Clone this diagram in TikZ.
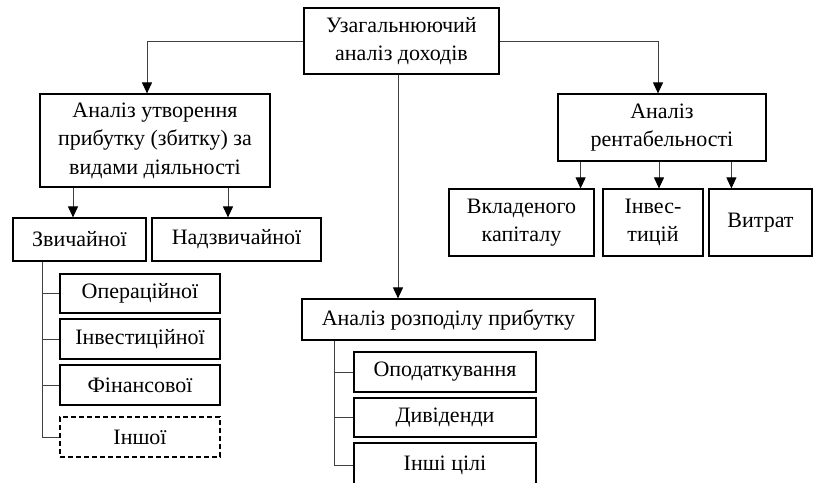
\documentclass[tikz,border=0pt]{standalone}
\usepackage{fontspec}
\setmainfont{Liberation Serif}
\usetikzlibrary{arrows.meta}

\begin{document}
\begin{tikzpicture}[x=1pt,y=-1pt,line cap=butt,
  box/.style={draw,line width=1.2pt,align=center,inner sep=2pt,
              font=\fontsize{22}{28.5}\selectfont},
  dashbox/.style={box,dash pattern=on 5pt off 3pt},
  arr/.style={line width=1pt,black!75,
              -{Triangle[length=11pt,width=10pt,color=black]}},
  stem/.style={line width=1pt,black!75}]
  \useasboundingbox (0,0) rectangle (814,482);

  % top level
  \node[box,minimum width=195pt,minimum height=66pt] (top) at (401.5,41)
    {Узагальнюючий\\аналіз доходів};

  % formation of profit
  \node[box,minimum width=230pt,minimum height=93pt] (akt) at (155,140.5)
    {Аналіз утворення\\прибутку (збитку) за\\видами діяльності};
  \node[box,minimum width=133pt,minimum height=43pt] (zv)  at (79.5,239.5) {Звичайної};
  \node[box,minimum width=169pt,minimum height=43pt] (nzv) at (236.5,239.5) {Надзвичайної};
  \node[box,minimum width=160pt,minimum height=39pt] (op)  at (140,293.5) {Операційної};
  \node[box,minimum width=160pt,minimum height=40pt] (inv) at (140,339) {Інвестиційної};
  \node[box,minimum width=160pt,minimum height=40pt] (fin) at (140,385) {Фінансової};
  \node[dashbox,minimum width=160pt,minimum height=40pt] (insh) at (140,437) {Іншої};

  % distribution of profit
  \node[box,minimum width=293pt,minimum height=41pt] (rozp) at (448.5,319.5)
    {Аналіз розподілу прибутку};
  \node[box,minimum width=182pt,minimum height=40pt] (opod)  at (445,372) {Оподаткування};
  \node[box,minimum width=182pt,minimum height=39pt] (div)   at (445,417.5) {Дивіденди};
  \node[box,minimum width=182pt,minimum height=45pt] (inshi) at (445,465.5) {Інші цілі};

  % profitability
  \node[box,minimum width=208pt,minimum height=67pt] (rent) at (662,127.5)
    {Аналіз\\рентабельності};
  \node[box,minimum width=145pt,minimum height=67pt] (vk)   at (521.5,222.5)
    {Вкладеного\\капіталу};
  \node[box,minimum width=100pt,minimum height=67pt] (invc) at (653,222.5)
    {Інвес-\\тицій};
  \node[box,minimum width=103pt,minimum height=67pt] (vyt)  at (760.5,222.5) {Витрат};

  % arrow points
  \path (akt.north) ++(-8,0) coordinate (t0);
  \path (rent.north) ++(-4,0) coordinate (t1);
  \path (top.south) ++(-3.5,0) coordinate (t2);
  \path (zv.north) ++(-6.5,0) coordinate (t3);
  \path (nzv.north) ++(-8.5,0) coordinate (t4);
  \path (vk.north east) ++(-14,0) coordinate (t5);
  \path (invc.north) ++(6,0) coordinate (t6);
  \path (vyt.north west) ++(23,0) coordinate (t7);
  \path (zv.south west) ++(30,0) coordinate (s1);
  \path (rozp.south west) ++(33,0) coordinate (s2);

  % arrows
  \draw[arr] (top.west) -| (t0);
  \draw[arr] (top.east) -| (t1);
  \draw[arr] (t2) -- (t2 |- rozp.north);
  \draw[arr] (t3 |- akt.south) -- (t3);
  \draw[arr] (t4 |- akt.south) -- (t4);
  \foreach \t in {t5,t6,t7}
    \draw[arr] (\t |- rent.south) -- (\t);

  % stems
  \draw[stem] (s1) |- (insh.west);
  \foreach \n in {op,inv,fin}
    \draw[stem] (s1 |- \n.west) -- (\n.west);
  \draw[stem] (s2) |- (inshi.west);
  \foreach \n in {opod,div}
    \draw[stem] (s2 |- \n.west) -- (\n.west);
\end{tikzpicture}
\end{document}
